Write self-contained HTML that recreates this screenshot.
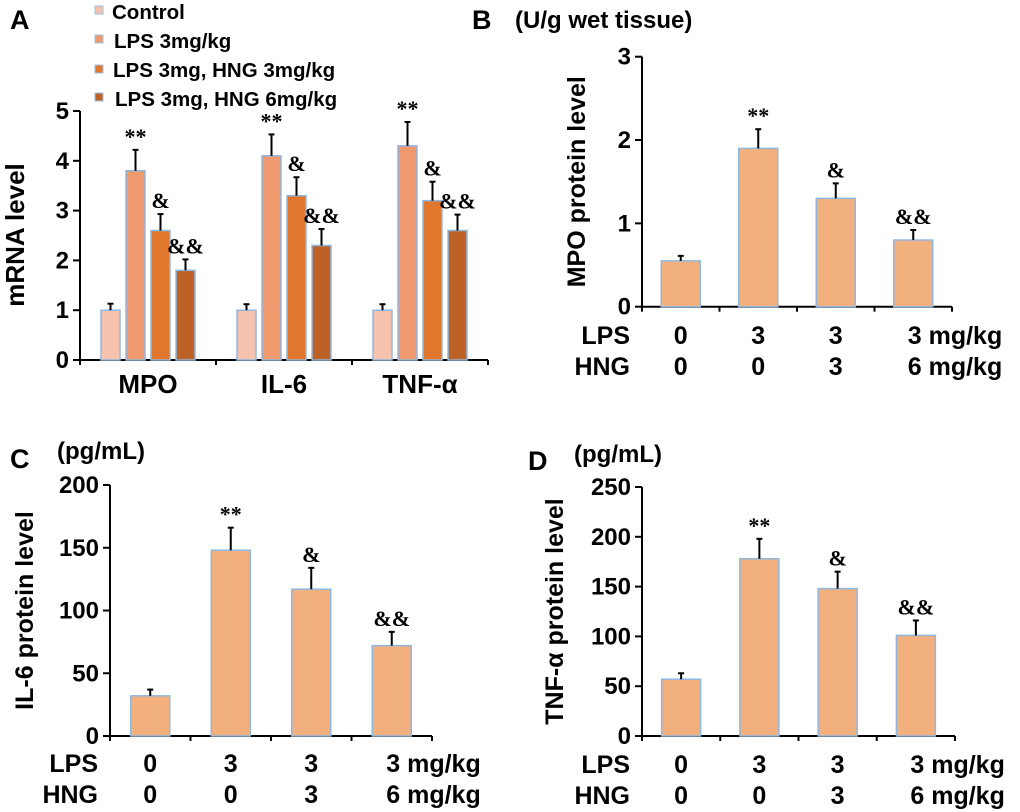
<!DOCTYPE html>
<html><head><meta charset="utf-8"><style>
html,body{margin:0;padding:0;background:#fff;}
svg{display:block;font-family:"Liberation Sans",sans-serif;font-weight:bold;}
</style></head><body>
<svg id="fig" width="1020" height="812" viewBox="0 0 1020 812" xmlns="http://www.w3.org/2000/svg">
<g font-size="20.5">
 <rect x="95" y="6" width="8" height="8" fill="#f4c2ae" stroke="#9cc3e6"/><text x="112" y="19">Control</text>
 <rect x="95" y="35" width="8" height="8" fill="#ef9a6e" stroke="#9cc3e6"/><text x="114" y="48">LPS 3mg/kg</text>
 <rect x="95" y="65" width="8" height="8" fill="#e0772d" stroke="#9cc3e6"/><text x="113" y="77">LPS 3mg, HNG 3mg/kg</text>
 <rect x="95" y="93" width="8" height="8" fill="#bd6227" stroke="#9cc3e6"/><text x="115" y="106">LPS 3mg, HNG 6mg/kg</text>
</g>
<text x="10" y="29" font-size="27">A</text>
<text x="472" y="29" font-size="27">B</text>
<text x="10" y="468" font-size="27">C</text>
<text x="528" y="470" font-size="27">D</text>
<text x="515" y="28" font-size="24">(U/g wet tissue)</text>
<text x="57" y="459" font-size="24">(pg/mL)</text>
<text x="574" y="462" font-size="24">(pg/mL)</text>
</svg>
<script>
const NS="http://www.w3.org/2000/svg";
const svg=document.getElementById('fig');
function mk(tag,attrs,parent,text){const e=document.createElementNS(NS,tag);for(const k in attrs)e.setAttribute(k,attrs[k]);if(text!==undefined)e.textContent=text;(parent||svg).appendChild(e);return e;}

// Panel A data
const aGroups=["MPO","IL-6","TNF-α"];
const aSeries=["Control","LPS 3mg/kg","LPS 3mg, HNG 3mg/kg","LPS 3mg, HNG 6mg/kg"];
const aValues=[[1,3.8,2.6,1.8],[1,4.1,3.3,2.3],[1,4.3,3.2,2.6]];
const aErrors=[[0.13,0.42,0.33,0.22],[0.12,0.43,0.37,0.33],[0.12,0.48,0.38,0.32]];
const aMarks=[["","**","&","&&"],["","**","&","&&"],["","**","&","&&"]];
const aTicks=[0,1,2,3,4,5];
// Panel B
const bValues=[0.55,1.9,1.3,0.8];
const bErrors=[0.06,0.23,0.18,0.12];
const bTicks=[0,1,2,3];
// Panel C
const cValues=[32,148,117,72];
const cErrors=[5,18,17,11];
const cTicks=[0,50,100,150,200];
// Panel D
const dValues=[57,178,148,101];
const dErrors=[6,20,17,15];
const dTicks=[0,50,100,150,200,250];
const protMarks=["","**","&","&&"];
const lpsRow=["0","3","3","3 mg/kg"];
const hngRow=["0","0","3","6 mg/kg"];

const aColors=["#f4c2ae","#ef9a6e","#e0772d","#bd6227"];

function axes(g,x0,y0,x1,yTop,ticks,yScale,tickFs,nX,name){
  const ax=mk('g',{},g);
  
  
  mk('line',{x1:x0,y1:y0,x2:x0,y2:yTop,stroke:'#000','stroke-width':2},ax);
  mk('line',{x1:x0-1,y1:y0,x2:x1,y2:y0,stroke:'#000','stroke-width':2},ax);
  ticks.forEach(t=>{const y=yScale(t);
    mk('line',{x1:x0-7,y1:y,x2:x0,y2:y,stroke:'#000','stroke-width':2},ax);
    const tl=mk('text',{x:x0-11,y:y+8,'text-anchor':'end','font-size':tickFs},ax,String(t));
    
    
  });
  for(let i=0;i<=nX;i++){const x=x0+(x1-x0)*i/nX;mk('line',{x1:x,y1:y0,x2:x,y2:y0+5,stroke:'#000','stroke-width':2},ax);}
}
function bar(g,x,w,v,e,yScale,y0,fill,mark,name){
  const yt=yScale(v), ye=yScale(v+e), cx=x+w/2;
  const r=mk('rect',{x:x,y:yt,width:w,height:y0-yt,fill:fill,stroke:'#8fb8e0','stroke-width':1.5},g);
  
  
  mk('line',{x1:cx,y1:yt,x2:cx,y2:ye,stroke:'#000','stroke-width':2},g);
  mk('line',{x1:cx-3,y1:ye,x2:cx+3,y2:ye,stroke:'#000','stroke-width':2},g);
  if(mark){const t=mk('text',{x:cx,y:ye-6,'text-anchor':'middle','font-size':22,'font-family':'"Liberation Serif",serif','font-weight':'bold'},g,mark);
    
    }
}

// Panel A
(function(){
  const g=mk('g',{});
  
  
  const x0=80,y0=360,x1=488,yTop=111,ymax=5;
  const ys=v=>y0-(y0-yTop)*v/ymax;
  axes(g,x0,y0,x1,yTop,aTicks,ys,24,3,'panel-a');
  const gw=(x1-x0)/aGroups.length;
  aGroups.forEach((gn,i)=>{
    aValues[i].forEach((v,j)=>{
      bar(g,x0+21+i*gw+j*25,19,v,aErrors[i][j],ys,y0,aColors[j],aMarks[i][j],'bar-'+gn.toLowerCase()+'-'+j);
    });
    const t=mk('text',{x:x0+i*gw+gw/2,y:y0+33,'text-anchor':'middle','font-size':26},g,gn);
    
    
  });
  const yt=mk('text',{transform:'translate(24,235) rotate(-90)','text-anchor':'middle','font-size':26},g,'mRNA level');
  
  
})();

function protein(opts){
  const g=mk('g',{});
  
  
  const {x0,y0,x1,yTop,ymax,vals,errs,ticks}=opts;
  const ys=v=>y0-(y0-yTop)*v/ymax;
  axes(g,x0,y0,x1,yTop,ticks,ys,24,4,opts.name);
  const step=(x1-x0)/4, bw=39;
  vals.forEach((v,i)=>{
    const bx=x0+i*step+(step-bw)/2;
    bar(g,bx,bw,v,errs[i],ys,y0,'#f3b07f',protMarks[i],'bar-group-'+i);
    [[lpsRow,opts.rowY1],[hngRow,opts.rowY2]].forEach(([row,ry])=>{
      const isLast=i===3;
      const t=mk('text',{x:isLast?bx+14:bx+bw/2,y:ry,'text-anchor':isLast?'start':'middle','font-size':25},g,row[i]);
      
      
    });
  });
  const l1=mk('text',{x:x0-12,y:opts.rowY1,'text-anchor':'end','font-size':25},g,'LPS');
  
  
  const l2=mk('text',{x:x0-12,y:opts.rowY2,'text-anchor':'end','font-size':25},g,'HNG');
  
  
  const yt=mk('text',{transform:`translate(${opts.titleX},${(y0+yTop)/2}) rotate(-90)`,'text-anchor':'middle','font-size':25},g,opts.title);
  
  
}
protein({name:'panel-b-chart',x0:642,y0:306.7,x1:952,yTop:56.7,ymax:3,vals:bValues,errs:bErrors,ticks:bTicks,rowY1:344,rowY2:375,title:'MPO protein level',titleX:585});
protein({name:'panel-c-chart',x0:110,y0:736,x1:432,yTop:485,ymax:200,vals:cValues,errs:cErrors,ticks:cTicks,rowY1:772,rowY2:803,title:'IL-6 protein level',titleX:33});
protein({name:'panel-d-chart',x0:642,y0:736,x1:955,yTop:487,ymax:250,vals:dValues,errs:dErrors,ticks:dTicks,rowY1:773,rowY2:804,title:'TNF-α protein level',titleX:563});
</script>
</body></html>
